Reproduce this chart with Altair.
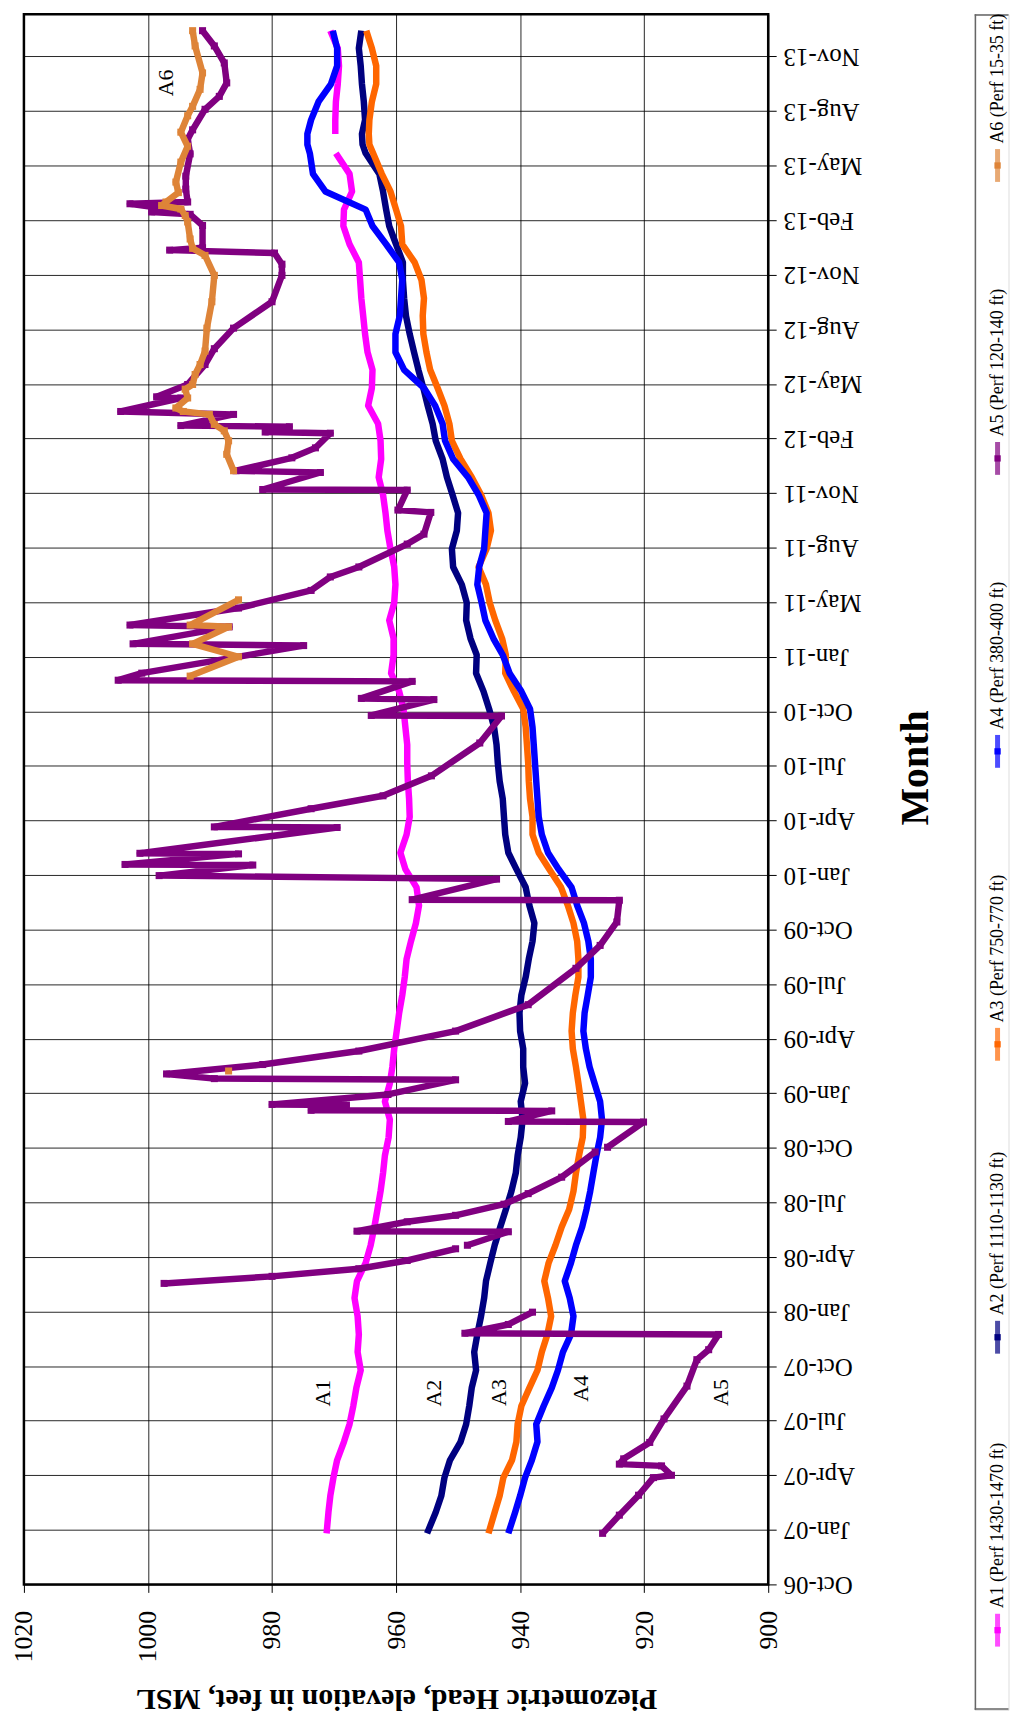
import altair as alt
import pandas as pd

# ---------------- data ----------------
SERIES = ["A1", "A2", "A3", "A4", "A5", "A6"]
LEGEND_LABELS = ["A1 (Perf 1430-1470 ft)", "A2 (Perf 1110-1130 ft)", "A3 (Perf 750-770 ft)",
                 "A4 (Perf 380-400 ft)", "A5 (Perf 120-140 ft)", "A6 (Perf 15-35 ft)"]
COLORS = ["#FF00FF", "#000080", "#FF6600", "#0000FF", "#800080", "#DE8438"]

GRID_DATES = [
    "2006-12-27", "2007-02-01", "2007-03-01", "2007-04-01", "2007-05-01", "2007-06-01", "2007-07-01",
    "2007-08-01", "2007-09-01", "2007-10-01", "2007-11-01", "2007-12-01",
    "2008-01-01", "2008-02-01", "2008-03-01", "2008-04-01", "2008-05-01", "2008-06-01", "2008-07-01",
    "2008-08-01", "2008-09-01", "2008-10-01", "2008-11-01", "2008-12-01",
    "2009-01-01", "2009-02-01", "2009-03-01", "2009-04-01", "2009-05-01", "2009-06-01", "2009-07-01",
    "2009-08-01", "2009-09-01", "2009-10-01", "2009-11-01", "2009-12-01",
    "2010-01-01", "2010-02-01", "2010-03-01", "2010-04-01", "2010-05-01", "2010-06-01", "2010-07-01",
    "2010-08-01", "2010-09-01", "2010-10-01", "2010-11-01", "2010-12-01",
    "2011-01-01", "2011-02-01", "2011-03-01", "2011-04-01", "2011-05-01", "2011-06-01", "2011-07-01",
    "2011-08-01", "2011-09-01", "2011-10-01", "2011-11-01", "2011-12-01",
    "2012-01-01", "2012-02-01", "2012-03-01", "2012-04-01", "2012-05-01", "2012-06-01", "2012-07-01",
    "2012-08-01", "2012-09-01", "2012-10-01", "2012-11-01", "2012-12-01",
    "2013-01-01", "2013-02-01", "2013-03-01", "2013-04-01", "2013-05-01", "2013-06-05", "2013-06-20",
    "2013-07-08", "2013-08-01", "2013-09-01", "2013-10-01", "2013-11-01", "2013-12-01", "2013-12-31"]

A1 = [971.2, 970.9, 970.6, 970.1, 969.5, 968.4, 967.5, 966.9, 966.4, 965.7, 966.2, 966.0,
      966.2, 966.7, 966.3, 964.9, 964.1, 963.5, 963.0, 962.5, 962.1, 961.8, 961.2, 961.0,
      961.8, 961.0, 960.6, 960.3, 959.9, 959.5, 959.0, 958.6, 958.3, 957.6, 956.8, 956.3,
      956.7, 958.5, 959.3, 958.3, 957.8, 957.9, 958.1, 958.2, 958.2, 958.5, 958.8, 959.5,
      960.8, 960.4, 960.4, 961.1, 960.3, 960.1, 960.3, 960.9, 961.4, 961.7, 962.1, 962.8,
      962.4, 962.5, 962.9, 964.5, 963.9, 963.8, 964.6, 965.0, 965.3, 965.6, 965.8, 966.0,
      967.5, 968.5, 968.4, 967.1, 967.5, 969.7, None, 969.8, 969.8, 969.7, 969.4, 969.2, 969.4, 970.6]

A2 = [955.0, 953.6, 952.7, 952.2, 951.3, 949.6, 948.7, 948.2, 947.8, 947.1, 947.4, 946.9,
      946.3, 945.8, 945.5, 944.8, 944.1, 943.2, 942.3, 941.4, 940.7, 940.4, 939.9, 939.6,
      939.9, 939.2, 939.5, 939.5, 940.0, 940.1, 939.8, 939.1, 938.6, 938.0, 937.7, 938.5,
      939.1, 940.6, 941.9, 942.4, 942.6, 942.8, 943.3, 943.6, 943.8, 944.2, 945.0, 945.9,
      947.1, 947.0, 948.0, 948.7, 948.6, 949.4, 950.8, 951.0, 950.2, 950.0, 950.9, 951.8,
      952.5, 953.6, 954.1, 954.9, 955.6, 956.4, 957.1, 957.8, 958.4, 958.7, 958.9, 958.9,
      960.0, 961.1, 961.6, 962.1, 962.7, 964.9, 965.4, 965.5, 965.0, 965.2, 965.5, 965.7, 966.0, 965.6]

A3 = [945.1, 944.1, 943.3, 942.7, 941.3, 940.6, 940.4, 939.8, 938.5, 937.2, 936.5, 935.6,
      935.0, 935.5, 936.1, 935.4, 934.3, 933.3, 932.1, 931.4, 931.0, 930.5, 929.9, 929.8,
      930.2, 930.6, 931.0, 931.5, 931.7, 931.5, 931.1, 930.6, 930.6, 930.8, 931.4, 932.3,
      933.4, 935.3, 937.0, 938.0, 938.0, 938.4, 938.6, 938.7, 938.9, 939.1, 939.5, 941.0,
      942.4, 942.3, 942.9, 944.0, 944.9, 945.5, 946.7, 945.4, 944.7, 945.1, 946.3, 947.8,
      949.6, 951.0, 951.4, 952.2, 953.3, 954.5, 955.1, 955.6, 955.7, 955.5, 955.9, 957.0,
      959.0, 959.2, 960.0, 960.9, 962.3, 963.7, 964.3, 964.4, 964.3, 963.9, 963.2, 963.2, 963.9, 964.8]

A4 = [941.9, 940.8, 940.0, 939.2, 938.1, 937.2, 937.4, 936.2, 934.9, 933.9, 933.1, 931.8,
      931.4, 932.0, 932.8, 931.8, 931.0, 930.0, 929.3, 928.7, 928.2, 927.7, 927.1, 926.8,
      927.1, 928.0, 928.8, 929.4, 929.8, 929.6, 929.1, 928.6, 928.6, 929.0, 929.7, 930.8,
      931.7, 933.8, 935.5, 936.5, 937.0, 937.2, 937.4, 937.6, 937.8, 938.0, 938.4, 939.8,
      941.7, 942.8, 944.3, 945.6, 946.2, 946.9, 946.6, 945.8, 945.6, 945.4, 946.7, 948.4,
      950.8, 952.1, 952.5, 953.7, 955.5, 958.7, 960.1, 960.1, 959.4, 959.2, 959.0, 959.5,
      961.6, 963.8, 964.9, 971.4, 973.4, 973.9, 974.3, 974.3, 973.7, 972.5, 970.5, 969.5, 969.5, 970.2]

A5_DATES = [
    "2006-12-27", "2007-01-27", "2007-03-02", "2007-04-01", "2007-04-05", "2007-04-21", "2007-04-24",
    "2007-05-03", "2007-05-31", "2007-07-10", "2007-09-04", "2007-10-19", "2007-11-05", "2007-12-01",
    "2007-12-03", "2007-12-18", "2008-01-08",
    "2008-02-26", "2008-03-09", "2008-03-22", "2008-04-05", "2008-04-25",
    "2008-05-01", "2008-05-24", "2008-05-25", "2008-06-10", "2008-06-21", "2008-07-10", "2008-07-28",
    "2008-08-25", "2008-10-07",
    "2008-10-15", "2008-11-27", "2008-11-28", "2008-12-16", "2008-12-17", "2008-12-26", "2008-12-27",
    "2009-01-13", "2009-02-07", "2009-02-09", "2009-02-17", "2009-03-05", "2009-03-28", "2009-05-01",
    "2009-06-15", "2009-08-16", "2009-09-24", "2009-11-03", "2009-12-10", "2009-12-11", "2010-01-15",
    "2010-01-21", "2010-02-08", "2010-02-09", "2010-02-27", "2010-02-28", "2010-04-13", "2010-04-14",
    "2010-05-15", "2010-06-06", "2010-07-10", "2010-09-04", "2010-10-20", "2010-10-21", "2010-11-17",
    "2010-11-19", "2010-12-18", "2010-12-20", "2011-01-01", "2011-02-17", "2011-02-20", "2011-03-21",
    "2011-03-24", "2011-04-22", "2011-05-22", "2011-06-14", "2011-07-01", "2011-08-09", "2011-08-26",
    "2011-10-02", "2011-10-06", "2011-11-09", "2011-11-10", "2011-12-09", "2011-12-12", "2012-01-03",
    "2012-01-20", "2012-02-14", "2012-02-16", "2012-02-25", "2012-02-27", "2012-03-17", "2012-03-22",
    "2012-04-14", "2012-04-16", "2012-05-07", "2012-06-10", "2012-07-07", "2012-08-11", "2012-09-25",
    "2012-11-09", "2012-11-28", "2012-12-17", "2012-12-22", "2012-12-26", "2013-02-02", "2013-02-21",
    "2013-02-25", "2013-02-27", "2013-03-11", "2013-03-14", "2013-04-05", "2013-04-27", "2013-06-04",
    "2013-06-29", "2013-07-15", "2013-08-19", "2013-09-10", "2013-10-03", "2013-11-06", "2013-12-05",
    "2013-12-31"]
A5 = [926.7, 924.0, 920.9, 918.5, 915.6, 917.2, 924.0, 923.3, 919.1, 916.8, 913.1, 911.5, 909.6, 908.0,
      948.9, 941.9, 938.0,
      997.4, 980.0, 966.0, 958.2, 950.4,
      948.5, 941.9, 966.3, 958.2, 950.4, 942.6, 938.7, 933.3, 927.9,
      925.9, 920.1, 941.9, 934.9, 973.7, 968.0, 980.0, 961.3, 950.4, 989.3, 997.0, 981.5, 966.0, 950.4,
      938.7, 931.0, 927.1, 924.4, 924.0, 957.4, 943.8, 998.2, 983.1, 1003.7, 985.4, 1001.3, 969.5, 989.3,
      973.7, 962.1, 954.3, 946.5, 943.0, 964.0, 953.9, 965.6, 957.4, 1004.8, 1001.0, 974.9, 1002.4, 986.9,
      1002.9, 985.4, 973.7, 970.6, 966.0, 958.2, 955.5, 954.4, 959.7, 958.2, 981.5, 972.2, 985.8, 976.8,
      973.0, 970.6, 981.1, 977.2, 994.7, 986.2, 1004.4, 994.7, 998.6, 993.6, 990.8, 989.3, 986.2, 980.0,
      978.4, 978.4, 979.6, 996.5, 991.2, 991.2, 993.2, 999.4, 994.7, 1002.9, 993.6, 993.9, 993.9, 993.2,
      993.6, 992.8, 990.8, 988.5, 987.3, 987.7, 989.3, 991.2]
A5_BREAKS = ["2008-02-26", "2008-05-01", "2008-10-15"]

A6_DATES = [
    "2009-02-22",
    "2010-12-27", "2011-01-29", "2011-02-20", "2011-03-21", "2011-03-24", "2011-05-06",
    "2011-12-12", "2012-01-09", "2012-02-01", "2012-02-18", "2012-02-29", "2012-03-17", "2012-03-22",
    "2012-03-28", "2012-04-14", "2012-04-29", "2012-05-07", "2012-05-24", "2012-06-10", "2012-07-03",
    "2012-08-11", "2012-09-25", "2012-11-09", "2012-12-13", "2012-12-25", "2013-01-10", "2013-02-08",
    "2013-02-19", "2013-03-02", "2013-03-08", "2013-03-14", "2013-03-30", "2013-04-17", "2013-05-21",
    "2013-06-17", "2013-07-11", "2013-08-08", "2013-08-24", "2013-09-22", "2013-10-20", "2013-12-05",
    "2013-12-31"]
A6 = [987.0,
      993.2, 985.4, 992.8, 987.0, 993.2, 985.4,
      986.2, 987.3, 987.0, 987.7, 989.3, 990.1, 994.3, 995.5, 993.6, 994.0, 992.8, 992.4, 991.6, 990.8,
      990.5, 989.7, 989.3, 990.8, 992.8, 993.2, 993.6, 994.0, 994.7, 997.8, 997.1, 995.1, 995.5, 994.7,
      993.6, 994.7, 993.6, 992.8, 991.6, 991.2, 992.4, 992.8]
A6_BREAKS = ["2010-12-27", "2011-12-12"]

LABEL_DATES = ["2007-08-23", "2007-08-23", "2007-08-24", "2007-08-31", "2007-08-24", "2013-10-03"]
LABEL_VALUES = [971.8, 953.9, 943.4, 930.2, 907.6, 997.1]

TICK_DATES = ["2006-10-01", "2007-01-02", "2007-04-05", "2007-07-07", "2007-10-08", "2008-01-09",
              "2008-04-11", "2008-07-13", "2008-10-14", "2009-01-15", "2009-04-18", "2009-07-20",
              "2009-10-21", "2010-01-22", "2010-04-25", "2010-07-27", "2010-10-28", "2011-01-29",
              "2011-05-02", "2011-08-03", "2011-11-04", "2012-02-05", "2012-05-08", "2012-08-09",
              "2012-11-10", "2013-02-11", "2013-05-15", "2013-08-16", "2013-11-17"]
Y_DOMAIN = ["2006-10-01", "2014-01-28"]
HEAD_TICKS = [900, 920, 940, 960, 980, 1000, 1020]

FONT = "Liberation Serif"


def ms(s):
    return int(pd.Timestamp(s, tz="UTC").value // 10**6)


def build(dates, values, breaks=()):
    rows, seg = [], 0
    n = min(len(dates), len(values))
    for i in range(n):
        d, v = dates[i], values[i]
        if v is None:
            seg += 1
            continue
        if d in breaks and i > 0:
            seg += 1
        rows.append({"date": d, "value": v, "seg": seg, "ord": i})
    return pd.DataFrame(rows)


W, H = 748, 1578

X = alt.X("value:Q",
          scale=alt.Scale(domain=[900, 1020], reverse=True, nice=False, zero=False),
          axis=alt.Axis(values=HEAD_TICKS, format="d", orient="bottom", grid=True, domain=False,
                        labelAngle=270, labelAlign="right", labelBaseline="middle",
                        labelFont=FONT, labelFontSize=26, labelColor="black", labelFlush=False,
                        labelPadding=18, tickSize=8, tickColor="black", tickWidth=1,
                        gridColor="black", gridOpacity=0.85, gridWidth=1,
                        title="Piezometric Head, elevation in feet, MSL", titleAngle=180,
                        titleFont=FONT, titleFontSize=30, titleFontWeight="bold", titleColor="black",
                        titleX=W / 2, titleY=115, titleAlign="center", titleBaseline="middle"))

Y = alt.Y("date:T",
          scale=alt.Scale(type="utc", domain=[ms(Y_DOMAIN[0]), ms(Y_DOMAIN[1])], nice=False),
          axis=alt.Axis(values=[ms(t) for t in TICK_DATES], orient="right", format="%b-%y",
                        grid=True, domain=False, labelOverlap=False, labelFlush=False,
                        labelAngle=180, labelAlign="right", labelBaseline="middle",
                        labelFont=FONT, labelFontSize=25, labelColor="black",
                        labelPadding=7, tickSize=8, tickColor="black", tickWidth=1,
                        gridColor="black", gridOpacity=0.85, gridWidth=1,
                        title="Month", titleAngle=270, titleFont=FONT, titleFontSize=40,
                        titleFontWeight="bold", titleColor="black",
                        titleX=148.5, titleY=757, titleAlign="center", titleBaseline="middle"))

frames = {
    "A1": build(GRID_DATES, A1),
    "A2": build(GRID_DATES, A2),
    "A3": build(GRID_DATES, A3),
    "A4": build(GRID_DATES, A4),
    "A5": build(A5_DATES, A5, A5_BREAKS),
    "A6": build(A6_DATES, A6, A6_BREAKS),
}

layers = []
for s, col in zip(SERIES, COLORS):
    df = frames[s]
    layers.append(
        alt.Chart(df).mark_line(color=col, strokeWidth=6.5, strokeJoin="round", strokeCap="butt")
        .encode(x=X, y=Y, detail="seg:N", order=alt.Order("ord:Q"))
    )
    if s in ("A5", "A6"):
        layers.append(
            alt.Chart(df).mark_square(color=col, size=50, opacity=1)
            .encode(x=X, y=Y)
        )

lab_df = pd.DataFrame({"label": SERIES, "date": LABEL_DATES, "value": LABEL_VALUES})
layers.append(
    alt.Chart(lab_df).mark_text(angle=270, align="center", baseline="middle",
                                font=FONT, fontSize=22, color="black")
    .encode(x=X, y=Y, text="label:N")
)

main = alt.layer(*layers).properties(
    width=W, height=H, view=alt.ViewBackground(stroke="black", strokeWidth=2.5))

# ---------------- legend panel ----------------
LW, LH = 34, 1704
leg_df = pd.DataFrame({
    "idx": [5 - i for i in range(6)],
    "label": LEGEND_LABELS,
    "series": SERIES,
})
LY = alt.Y("idx:Q", scale=alt.Scale(domain=[-0.5163, 5.2717], reverse=True, nice=False, zero=False),
           axis=None)
LC = alt.Color("series:N", scale=alt.Scale(domain=SERIES, range=COLORS), legend=None)
LX = alt.value(23)

box = pd.DataFrame({"k": [0]})
rule_style = dict(color="#666666", strokeWidth=1.5)
legend = alt.layer(
    alt.Chart(box).mark_rule(**rule_style).encode(x=alt.value(0), x2=alt.value(LW), y=alt.value(0.75)),
    alt.Chart(box).mark_rule(**rule_style).encode(x=alt.value(0.75), y=alt.value(0), y2=alt.value(LH)),
    alt.Chart(box).mark_rule(**rule_style).encode(x=alt.value(0), x2=alt.value(LW), y=alt.value(LH - 0.75)),
    alt.Chart(leg_df).mark_tick(orient="vertical", size=33, thickness=5).encode(x=LX, y=LY, color=LC),
    alt.Chart(leg_df).mark_square(size=40, opacity=1).encode(x=LX, y=LY, color=LC),
    alt.Chart(leg_df).mark_text(angle=270, align="left", baseline="middle", dx=22,
                                font=FONT, fontSize=18, color="black")
    .encode(x=LX, y=LY, text="label:N"),
).properties(width=LW, height=LH)

chart = alt.hconcat(main, legend, spacing=207.5, bounds="flush").properties(
    padding={"left": 1, "top": 0, "right": 0, "bottom": 0}
).configure_view(strokeWidth=0).configure(font=FONT)

chart.save("out.html", embed_options={"renderer": "svg", "actions": False})
